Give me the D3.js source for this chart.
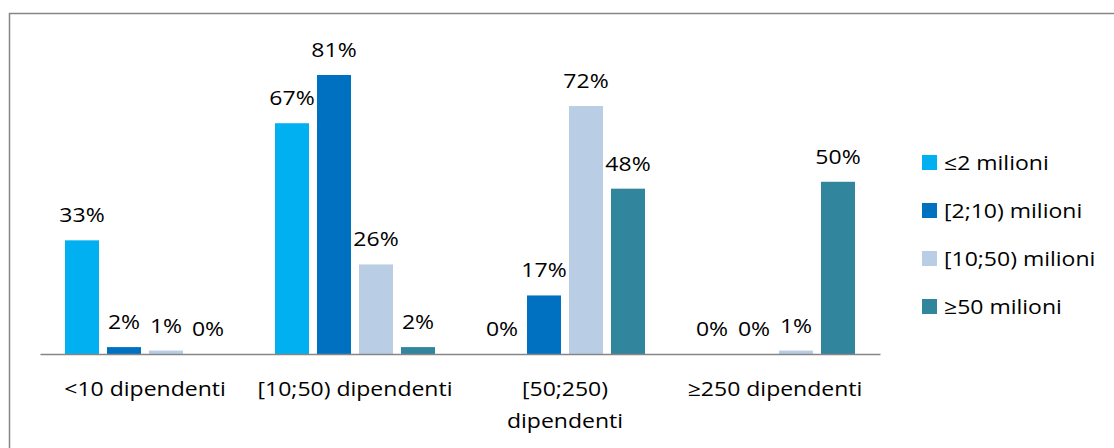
<!DOCTYPE html>
<html>
<head>
<meta charset="utf-8">
<script src="https://cdn.jsdelivr.net/npm/d3@7"></script>
<style>
  html, body { margin: 0; padding: 0; background: #fff; }
  svg text { font-family: "Open Sans", "Noto Sans", sans-serif; fill: #000; font-size: 20px; }
</style>
</head>
<body>
<svg id="chart" width="1114" height="448"></svg>
<script>
// Categories (company size) and series (revenue bands)
const categories = ["<10 dipendenti", "[10;50) dipendenti", "[50;250)\ndipendenti", "≥250 dipendenti"];
const seriesNames = ["≤2 milioni", "[2;10) milioni", "[10;50) milioni", "≥50 milioni"];
const seriesColors = ["#00B0F0", "#0070C0", "#B9CDE5", "#31859C"];

// Share of each revenue band within each size class (percent)
const le2 = [33, 67, 0, 0];
const from2to10 = [2, 81, 17, 0];
const from10to50 = [1, 26, 72, 1];
const ge50 = [0, 2, 48, 50];
const seriesValues = [le2, from2to10, from10to50, ge50];

// Text is drawn slightly widened
const SX = 1.15;
const place = (x, yy) => `translate(${x},${yy}) scale(${SX},1)`;

const svg = d3.select("#chart");

// Outer frame
svg.append("rect")
  .attr("x", 9.5).attr("y", 13.5)
  .attr("width", 1200).attr("height", 500)
  .attr("fill", "none").attr("stroke", "#868686").attr("stroke-width", 1.5);

const plot = { left: 40, right: 880, top: 44, bottom: 354 };

const x0 = d3.scaleBand()
  .domain(categories)
  .range([plot.left, plot.right])
  .paddingInner(0)
  .paddingOuter(0);

const x1 = d3.scaleBand()
  .domain(d3.range(seriesNames.length))
  .range([25, 185])
  .paddingInner(8 / 42)
  .paddingOuter(0);

const y = d3.scaleLinear()
  .domain([0, 90])
  .range([plot.bottom, plot.top]);

const groups = svg.append("g").selectAll("g")
  .data(categories)
  .join("g")
  .attr("transform", d => `translate(${x0(d)},0)`);

const cells = groups.selectAll("g.cell")
  .data((c, ci) => seriesValues.map((vals, si) => ({ si, v: vals[ci] })))
  .join("g").attr("class", "cell");

cells.append("rect")
  .attr("x", d => x1(d.si))
  .attr("y", d => y(d.v))
  .attr("width", x1.bandwidth())
  .attr("height", d => plot.bottom - y(d.v))
  .attr("fill", d => seriesColors[d.si]);

cells.append("text")
  .attr("transform", d => place(x1(d.si) + x1.bandwidth() / 2, y(d.v) - 18))
  .attr("text-anchor", "middle")
  .text(d => d.v + "%");

// Category axis
const xAxis = d3.axisBottom(x0).tickSize(0).tickFormat("");
const axisG = svg.append("g")
  .attr("transform", `translate(0,${plot.bottom})`)
  .call(xAxis);
axisG.select(".domain").attr("stroke", "#868686").attr("stroke-width", 1.5);

const catLabels = svg.append("g").selectAll("text")
  .data(categories)
  .join("text")
  .attr("transform", d => place(x0(d) + x0.bandwidth() / 2, 396))
  .attr("text-anchor", "middle");
catLabels.each(function (d) {
  const t = d3.select(this);
  d.split("\n").forEach((line, i) => {
    t.append("tspan")
      .attr("x", 0)
      .attr("dy", i === 0 ? 0 : 32)
      .text(line);
  });
});

// Legend
const legend = svg.append("g").selectAll("g")
  .data(seriesNames)
  .join("g")
  .attr("transform", (d, i) => `translate(922,${155 + i * 48})`);
legend.append("rect")
  .attr("width", 15).attr("height", 15)
  .attr("fill", (d, i) => seriesColors[i]);
legend.append("text")
  .attr("transform", place(22, 15))
  .text(d => d);
</script>
</body>
</html>
